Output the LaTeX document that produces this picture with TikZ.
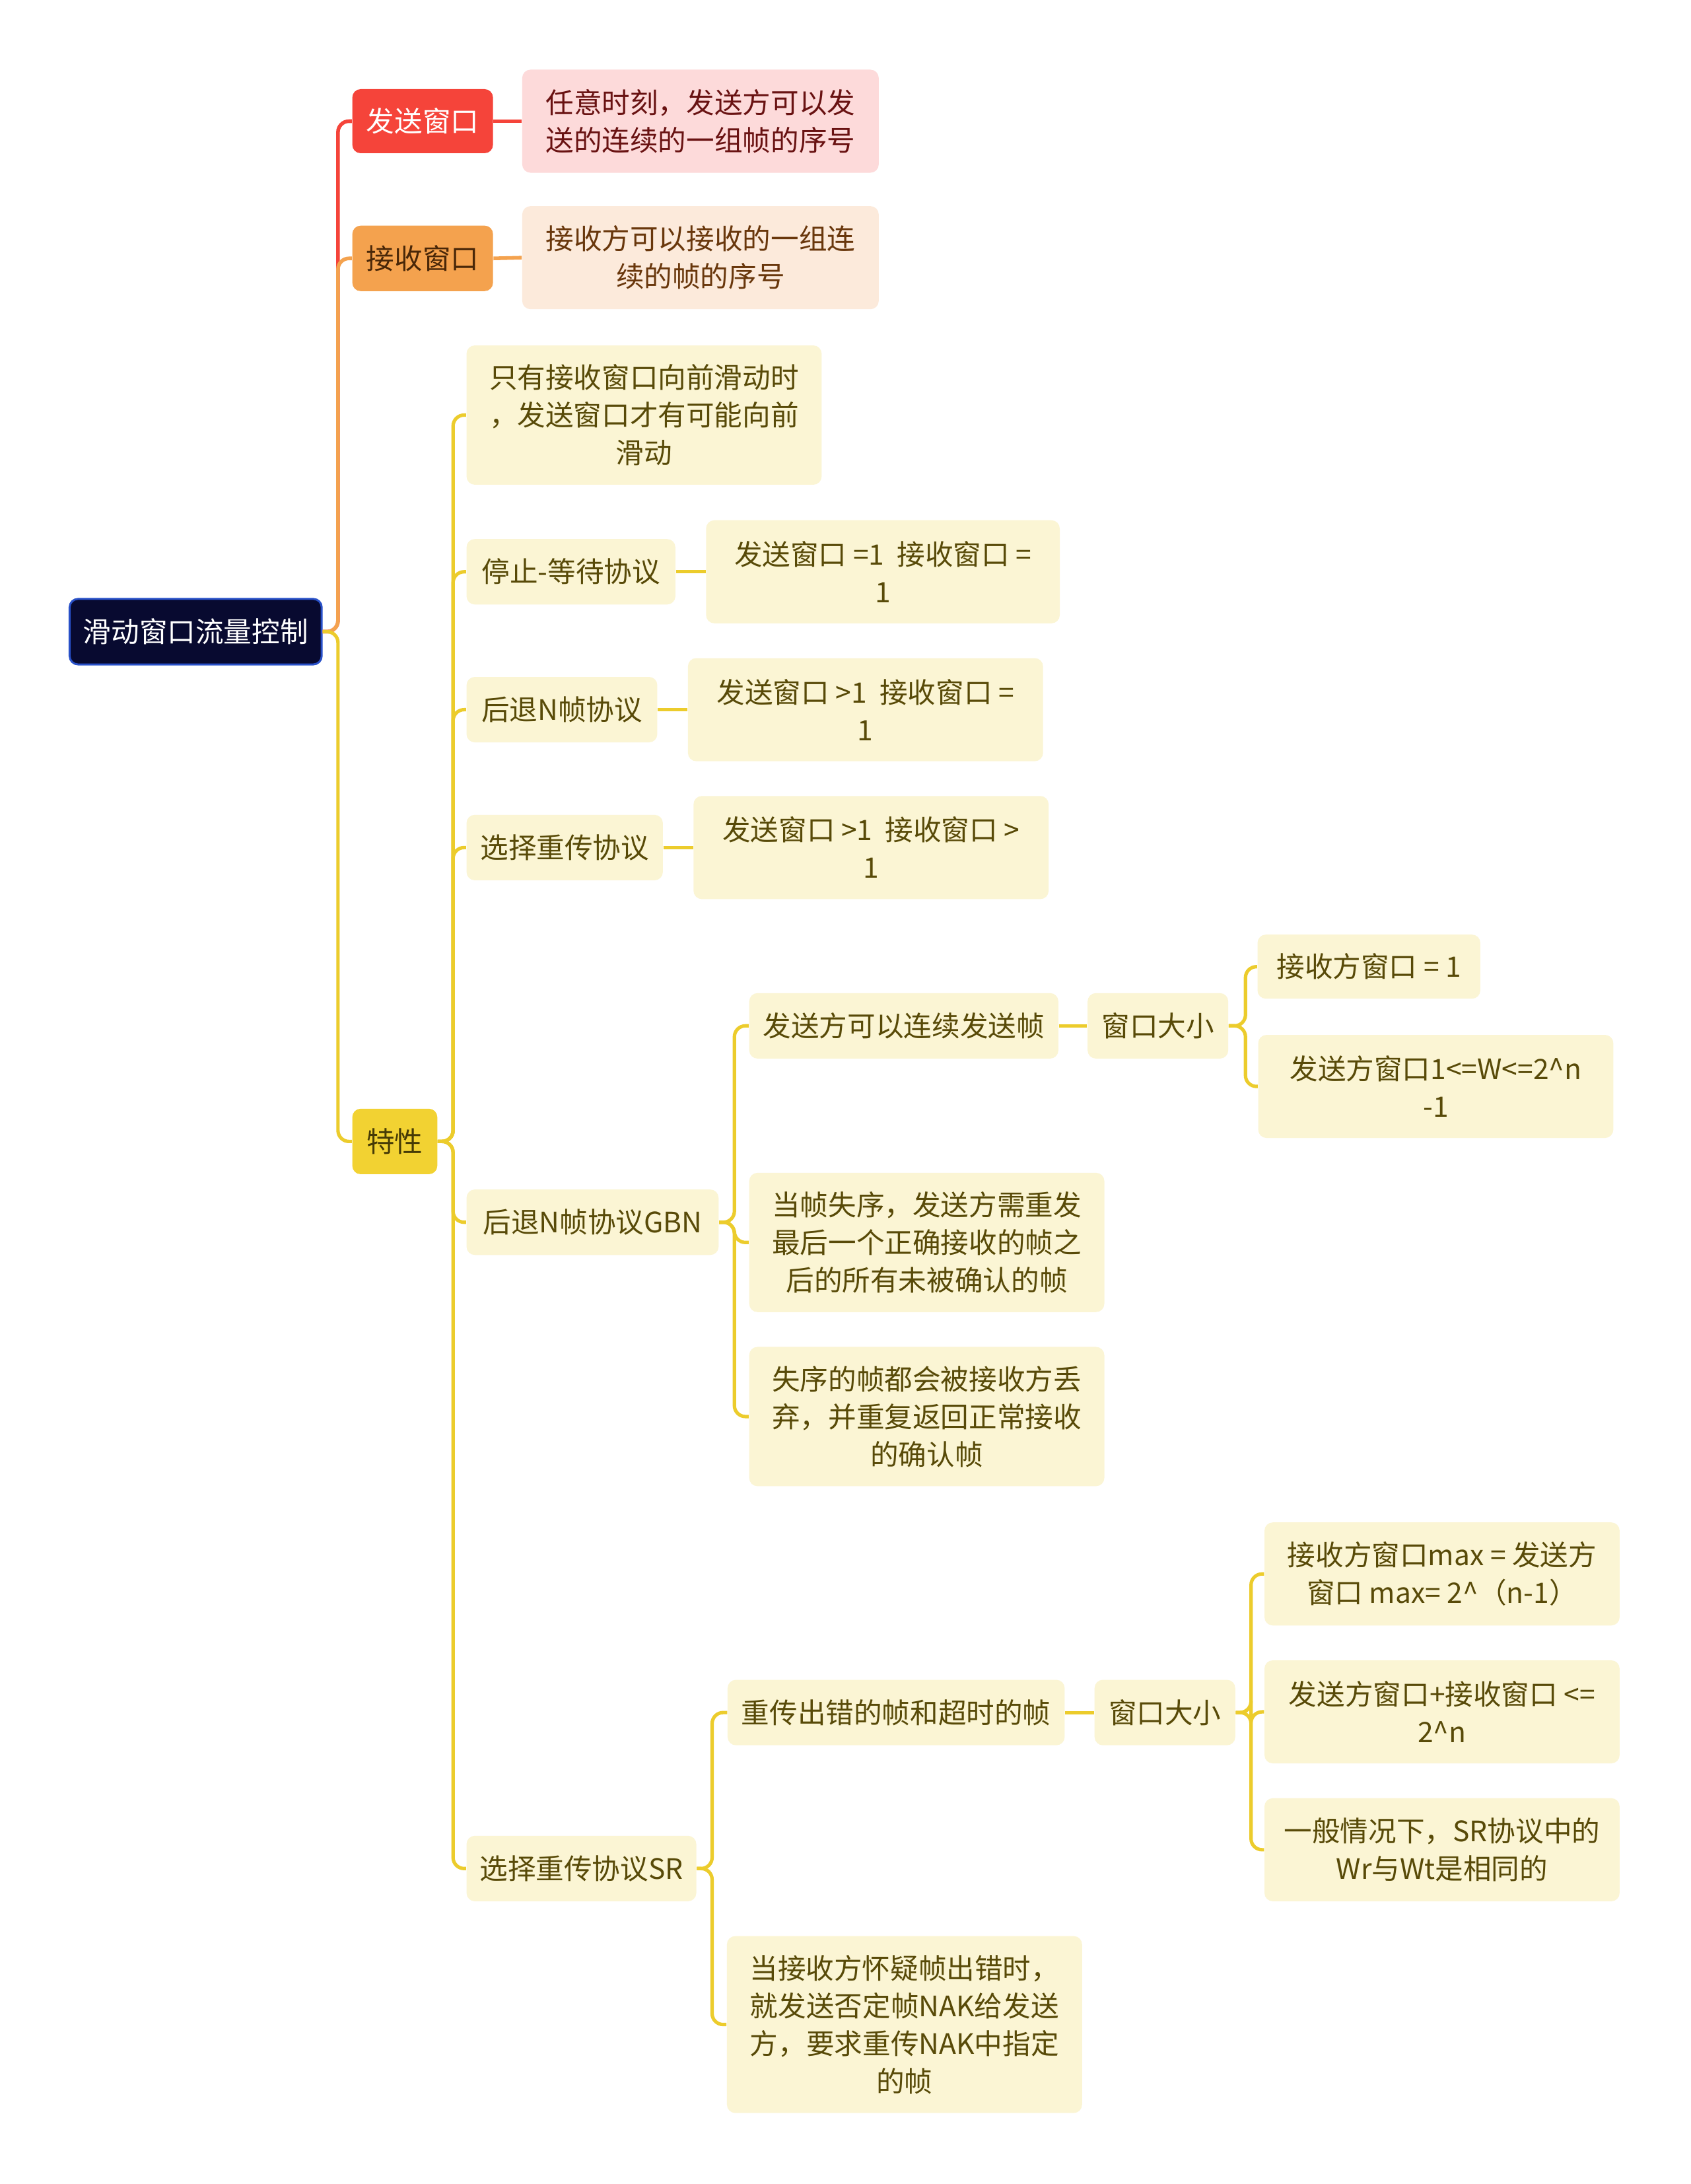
\documentclass[tikz,border=0pt]{standalone}
\usepackage{fontspec}
\newfontfamily\cjk{Noto Sans CJK SC}
\definecolor{rootbg}{RGB}{8,10,48}
\definecolor{rootln}{RGB}{40,80,200}
\definecolor{redbg}{RGB}{245,68,58}
\definecolor{redpale}{RGB}{253,218,218}
\definecolor{redtxt}{RGB}{105,18,18}
\definecolor{orgbg}{RGB}{244,162,78}
\definecolor{orgpale}{RGB}{252,234,219}
\definecolor{orgtxt}{RGB}{105,55,12}
\definecolor{ylwbg}{RGB}{242,210,50}
\definecolor{ylwpale}{RGB}{251,245,212}
\definecolor{ylwtxt}{RGB}{88,74,8}
\definecolor{ylwln}{RGB}{236,204,44}
\tikzset{
  box/.style={rounded corners=3.4pt, align=center, inner sep=0pt,
    font=\cjk\fontsize{11.5}{15.4}\selectfont},
  sz/.style 2 args={minimum width=#1*0.02cm, minimum height=#2*0.02cm},
  leaf/.style={box, fill=ylwpale, text=ylwtxt},
  rline/.style={draw=redbg, line width=1.5pt, rounded corners=4.5pt},
  oline/.style={draw=orgbg, line width=1.5pt, rounded corners=4.5pt},
  yline/.style={draw=ylwln, line width=1.4pt, rounded corners=4.5pt}
}
\begin{document}
\begin{tikzpicture}[x=0.02cm, y=-0.02cm]
  \useasboundingbox[fill=white] (0,0) rectangle (1214,1568);

  % root and first level
  \node[box, sz={181}{47}, fill=rootbg, draw=rootln, line width=0.8pt, text=white] (root) at (140.5,453.5) {滑动窗口流量控制};
  \node[box, sz={101}{46}, fill=redbg, text=white] (send) at (303.5,87) {发送窗口};
  \node[box, sz={256}{74}, fill=redpale, text=redtxt] (sendd) at (503,87) {任意时刻，发送方可以发\\送的连续的一组帧的序号};
  \node[box, sz={101}{47}, fill=orgbg, text=orgtxt!70!black] (recv) at (303.5,185.5) {接收窗口};
  \node[box, sz={256}{74}, fill=orgpale, text=orgtxt] (recvd) at (503,185) {接收方可以接收的一组连\\续的帧的序号};
  \node[box, sz={61}{47}, fill=ylwbg, text=ylwtxt!80!black] (feat) at (283.5,819.5) {特性};

  \draw[rline] (root.east) -- ++(11,0) |- (send.west);
  \draw[rline] (send.east) -- (sendd.west);
  \draw[oline] (root.east) -- ++(11,0) |- (recv.west);
  \draw[oline] (recv.east) -- (recvd.west);
  \draw[yline] (root.east) -- ++(11,0) |- (feat.west);

  % features
  \node[leaf, sz={255}{100}] (feat1) at (462.5,298) {只有接收窗口向前滑动时\\，发送窗口才有可能向前\\滑动};
  \node[leaf, sz={150}{47}] (stop) at (410,410.5) {停止-等待协议};
  \node[leaf, sz={254}{74}] (stopd) at (634,410.5) {发送窗口 =1\ \ 接收窗口 =\\1};
  \node[leaf, sz={137}{47}] (gbn1) at (403.5,509.5) {后退N帧协议};
  \node[leaf, sz={255}{74}] (gbn1d) at (621.5,509.5) {发送窗口 >1\ \ 接收窗口 =\\1};
  \node[leaf, sz={141}{47}] (sr1) at (405.5,608.5) {选择重传协议};
  \node[leaf, sz={255}{74}] (sr1d) at (625.5,608.5) {发送窗口 >1\ \ 接收窗口 >\\1};
  \node[leaf, sz={181}{47}] (gbn) at (425.5,877.5) {后退N帧协议GBN};
  \node[leaf, sz={165}{47}] (sr) at (417.5,1341.5) {选择重传协议SR};

  \foreach \c in {feat1,stop,gbn1,sr1,gbn,sr}
    \draw[yline] (feat.east) -- ++(11,0) |- (\c.west);
  \draw[yline] (stop.east) -- (stopd.west);
  \draw[yline] (gbn1.east) -- (gbn1d.west);
  \draw[yline] (sr1.east) -- (sr1d.west);

  % GBN
  \node[leaf, sz={222}{47}] (gbna) at (649,736.5) {发送方可以连续发送帧};
  \node[leaf, sz={101}{47}] (gbnw) at (831.5,736.5) {窗口大小};
  \node[leaf, sz={160}{46}] (gbnw1) at (983,694) {接收方窗口 = 1};
  \node[leaf, sz={255}{74}] (gbnw2) at (1031,780) {发送方窗口1<=W<=2\textasciicircum n\\-1};
  \node[leaf, sz={255}{100}] (gbnb) at (665.5,892) {当帧失序，发送方需重发\\最后一个正确接收的帧之\\后的所有未被确认的帧};
  \node[leaf, sz={255}{100}] (gbnc) at (665.5,1017) {失序的帧都会被接收方丢\\弃，并重复返回正常接收\\的确认帧};

  \foreach \c in {gbna,gbnb,gbnc}
    \draw[yline] (gbn.east) -- ++(11,0) |- (\c.west);
  \draw[yline] (gbna.east) -- (gbnw.west);
  \foreach \c in {gbnw1,gbnw2}
    \draw[yline] (gbnw.east) -- ++(12,0) |- (\c.west);

  % SR
  \node[leaf, sz={242}{47}] (sra) at (643.5,1229.5) {重传出错的帧和超时的帧};
  \node[leaf, sz={101}{47}] (srw) at (836.5,1229.5) {窗口大小};
  \node[leaf, sz={255}{74}] (srw1) at (1035.5,1130) {接收方窗口max = 发送方\\窗口 max= 2\textasciicircum（n-1）};
  \node[leaf, sz={255}{74}] (srw2) at (1035.5,1229) {发送方窗口+接收窗口 <=\\2\textasciicircum n};
  \node[leaf, sz={255}{74}] (srw3) at (1035.5,1328) {一般情况下，SR协议中的\\Wr与Wt是相同的};
  \node[leaf, sz={255}{127}] (srb) at (649.5,1453.5) {当接收方怀疑帧出错时，\\就发送否定帧NAK给发送\\方，要求重传NAK中指定\\的帧};

  \foreach \c in {sra,srb}
    \draw[yline] (sr.east) -- ++(11,0) |- (\c.west);
  \draw[yline] (sra.east) -- (srw.west);
  \foreach \c in {srw1,srw2,srw3}
    \draw[yline] (srw.east) -- ++(11,0) |- (\c.west);
\end{tikzpicture}
\end{document}
